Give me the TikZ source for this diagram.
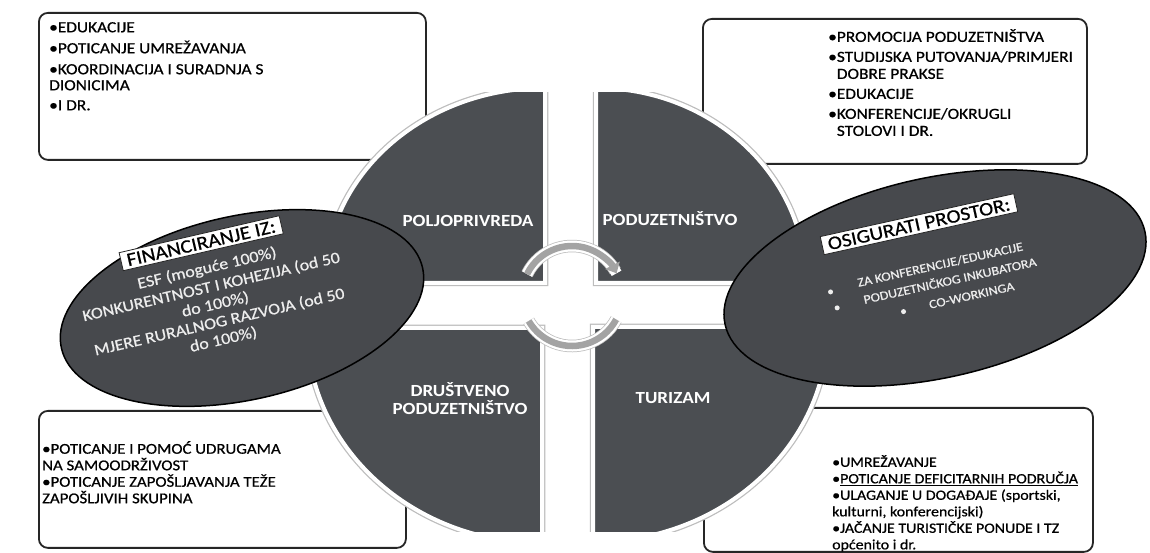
\documentclass[tikz,border=0pt]{standalone}
\usepackage{fontspec}
\setmainfont{Carlito}
\newfontfamily\wf[FakeStretch=1.12,UprightFeatures={FakeBold=0.7}]{Carlito}
\usetikzlibrary{shapes.geometric,arrows.meta}
\definecolor{quad}{HTML}{4B4E52}
\definecolor{ellc}{HTML}{47494D}
\definecolor{cycgray}{HTML}{A3A3A3}
\definecolor{boxline}{HTML}{262626}
\definecolor{elltxt}{HTML}{EDEDED}
\definecolor{rim}{HTML}{BDBDBD}
\begin{document}
\begin{tikzpicture}[x=1pt,y=1pt,
  infobox/.style={draw=boxline,line width=1.8pt,rounded corners=9pt,fill=white,inner sep=0pt,anchor=north west},
  boxtext/.style={anchor=north west,inner sep=0pt,align=left,text=black},
  quadrim/.style={draw=rim,line width=6.5pt},
  quadfill/.style={fill=quad,draw=white,line width=4pt},
  quadlabel/.style={text=white,inner sep=0pt,align=center,font=\wf\bfseries\fontsize{17}{18}\selectfont},
  ellshape/.style={ellipse,fill=ellc,draw=black,line width=1.5pt,inner sep=0pt},
  tagbox/.style={fill=white,draw=boxline,line width=0.8pt,inner xsep=6pt,inner ysep=3pt,text=black,font=\wf\fontsize{19}{20}\selectfont},
  elltext/.style={text=elltxt,inner sep=0pt},
  cycarc/.style={draw=cycgray,line width=6.5pt},
  cychalo/.style={draw=white,line width=11pt},
  cycrim/.style={draw=rim,line width=12.5pt},
  dot/.style={circle,fill=elltxt,inner sep=0pt,minimum size=5pt},
]
\useasboundingbox (0,0) rectangle (1150,553);
\fill[white] (0,0) rectangle (1150,553);

% corner boxes
\node[infobox,minimum width=387,minimum height=147] (tlbox) at (38,541) {};
\node[infobox,minimum width=384,minimum height=145] (trbox) at (702,535) {};
\node[infobox,minimum width=367,minimum height=137] (blbox) at (38,143) {};
\node[infobox,minimum width=389,minimum height=144] (brbox) at (703,146) {};

\node[boxtext,font=\wf\fontsize{15.5}{16}\selectfont] (tltext) at (49,531)
 {•EDUKACIJE\\[5pt]•POTICANJE UMREŽAVANJA\\[5pt]•KOORDINACIJA I SURADNJA S\\DIONICIMA\\[4pt]•I DR.};
\node[boxtext,font=\wf\fontsize{15.5}{17}\selectfont] (trtext) at (828,524)
 {•PROMOCIJA PODUZETNIŠTVA\\[3pt]•STUDIJSKA PUTOVANJA/PRIMJERI\\\phantom{•}DOBRE PRAKSE\\[3pt]•EDUKACIJE\\[3pt]•KONFERENCIJE/OKRUGLI\\\phantom{•}STOLOVI I DR.};
\node[boxtext,font=\wf\fontsize{15}{16.5}\selectfont] (bltext) at (42,112)
 {•POTICANJE I POMOĆ UDRUGAMA\\NA SAMOODRŽIVOST\\•POTICANJE ZAPOŠLJAVANJA TEŽE\\ZAPOŠLJIVIH SKUPINA};
\node[boxtext,font=\wf\fontsize{14.2}{16.5}\selectfont] (brtext) at (832,98)
 {•UMREŽAVANJE\\•\underline{POTICANJE DEFICITARNIH PODRUČJA}\\•ULAGANJE U DOGAĐAJE (sportski,\\kulturni, konferencijski)\\•JAČANJE TURISTIČKE PONUDE I TZ\\općenito i dr.};

% quadrants
\begin{scope}
\clip (0,21) rectangle (1150,460);
\foreach \st in {quadrim,quadfill}{
\draw[\st] (545,270) -- ++(-220,0) arc[start angle=180,end angle=90,x radius=220,y radius=195] -- cycle;
\draw[\st] (596,270) -- ++(210,0) arc[start angle=0,end angle=90,x radius=210,y radius=195] -- cycle;
\draw[\st] (542,225) -- ++(-235,0) arc[start angle=180,end angle=270,x radius=235,y radius=215] -- cycle;
\draw[\st] (593,226) -- ++(235,0) arc[start angle=0,end angle=-90,x radius=235,y radius=215] -- cycle;
}
\end{scope}

\node[quadlabel] (q1) at (468,332) {POLJOPRIVREDA};
\node[quadlabel] (q2) at (670,334) {PODUZETNIŠTVO};
\node[quadlabel] (q3) at (460,154) {DRUŠTVENO\\PODUZETNIŠTVO};
\node[quadlabel] (q4) at (673,155) {TURIZAM};

% cycle arrows
\coordinate (cyc) at (572,257);
\draw[cycrim] ([shift={(154:50)}]cyc) arc[start angle=154,end angle=30,radius=50];
\draw[cychalo] ([shift={(154:50)}]cyc) arc[start angle=154,end angle=27,radius=50];
\draw[cycarc,-{Triangle[length=9pt,width=16pt]}] ([shift={(154:50)}]cyc) arc[start angle=154,end angle=27,radius=50];
\draw[cycrim] ([shift={(332:50)}]cyc) arc[start angle=332,end angle=210,radius=50];
\draw[cychalo] ([shift={(332:50)}]cyc) arc[start angle=332,end angle=210,radius=50];
\draw[cycarc] ([shift={(332:50)}]cyc) arc[start angle=332,end angle=210,radius=50];

% left ellipse
\node[ellshape,minimum width=370,minimum height=184,rotate=12.5] (lell) at (242,245) {};
\begin{scope}[shift={(212,263)},rotate=13]
\node[tagbox,transform shape] (fin) at (0,48) {FINANCIRANJE IZ:};
\node[elltext,transform shape,font=\wf\fontsize{16}{18}\selectfont] (l1) at (0,22) {ESF (moguće 100\%)};
\node[elltext,transform shape,font=\wf\fontsize{16}{18}\selectfont] (l2) at (0,3) {KONKURENTNOST I KOHEZIJA (od 50};
\node[elltext,transform shape,font=\wf\fontsize{16}{18}\selectfont] (l3) at (0,-15) {do 100\%)};
\node[elltext,transform shape,font=\wf\fontsize{16}{18}\selectfont] (l4) at (0,-33) {MJERE RURALNOG RAZVOJA (od 50};
\node[elltext,transform shape,font=\wf\fontsize{16}{18}\selectfont] (l5) at (0,-51) {do 100\%)};
\end{scope}

% right ellipse
\node[ellshape,minimum width=430,minimum height=200,rotate=12.5] (rell) at (935,275) {};
\begin{scope}[shift={(935,275)},rotate=12.5]
\node[tagbox,transform shape] (osig) at (-4,56) {OSIGURATI PROSTOR:};
\node[elltext,transform shape,font=\wf\fontsize{12.5}{14}\selectfont] (r1) at (8,12) {ZA KONFERENCIJE/EDUKACIJE};
\node[elltext,transform shape,font=\wf\fontsize{12.5}{14}\selectfont] (r2) at (14,-5) {PODUZETNIČKOG INKUBATORA};
\node[elltext,transform shape,font=\wf\fontsize{12.5}{14}\selectfont] (r3) at (32,-25) {CO-WORKINGA};
\node[dot] (d1) at (-105,9) {};
\node[dot] (d2) at (-102,-8) {};
\node[dot] (d3) at (-38,-26) {};
\end{scope}
\end{tikzpicture}
\end{document}
